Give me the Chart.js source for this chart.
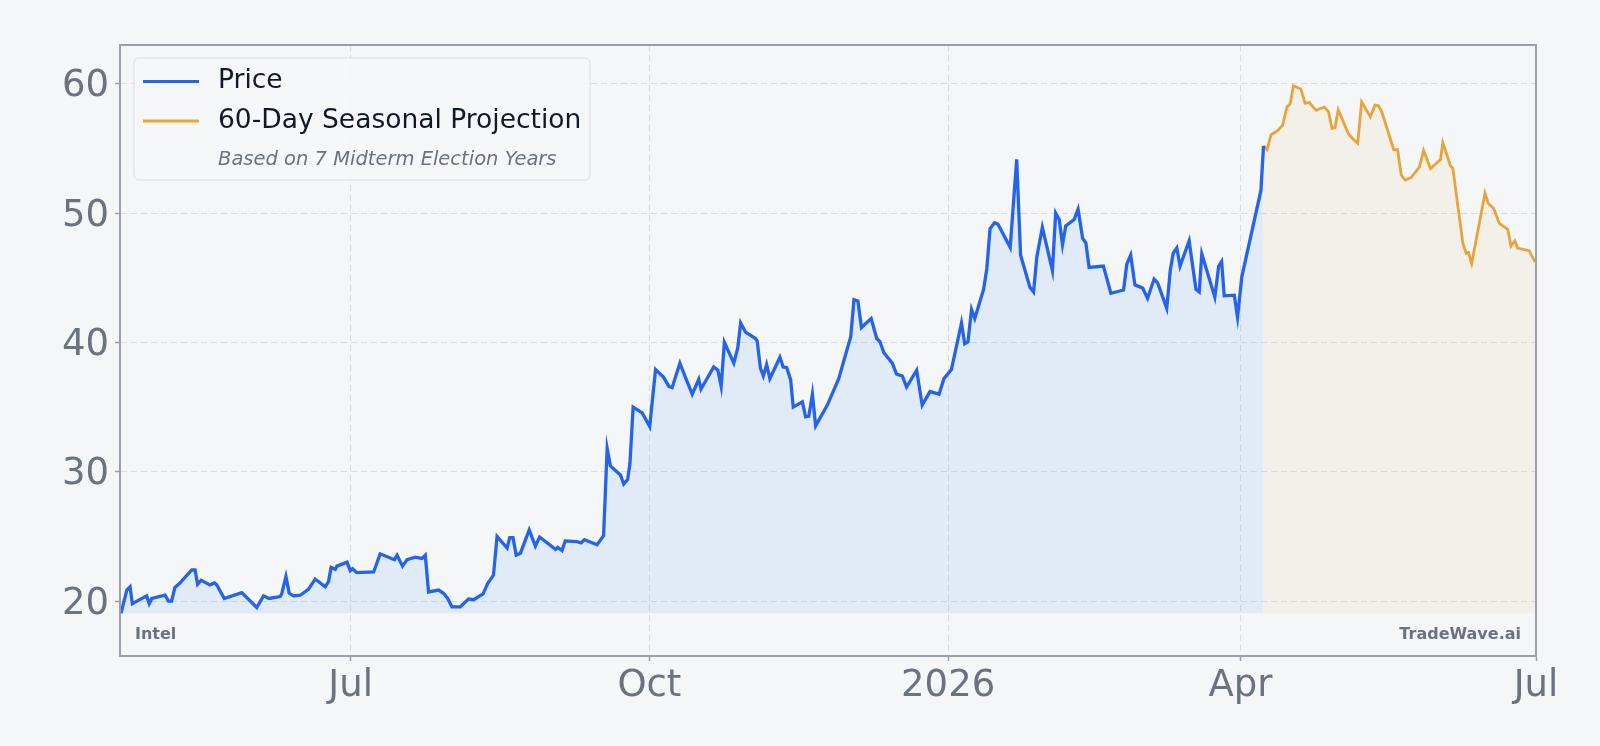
<!DOCTYPE html>
<html>
<head>
<meta charset="utf-8">
<title>Intel - 60-Day Seasonal Projection</title>
<script src="https://cdn.jsdelivr.net/npm/chart.js@4.4.1/dist/chart.umd.min.js"></script>
<style>
    html, body {
        margin: 0;
        padding: 0;
        background: #f5f6f8;
    }
    #wrap {
        width: 1600px;
        height: 746px;
    }
</style>
</head>
<body>
<div id="wrap">
    <canvas id="priceChart" width="1600" height="746"></canvas>
</div>
<script>
// day offsets are counted from START_DATE
const START_DATE = '2025-04-21';

const priceDays = [
    0.3, 2.1, 3.1, 3.8, 8.2, 9.0, 9.8, 13.9, 14.9, 15.9, 16.9, 18.5, 22.1, 23.1, 23.9, 25.0,
    27.7, 29.1, 29.8, 32.1, 37.5, 42.1, 44.2, 45.9, 49.3, 49.8, 51.1, 52.1, 53.4, 55.5, 58.0,
    60.1, 63.2, 64.2, 65.0, 66.3, 66.8, 69.9, 70.9, 71.6, 72.9, 78.1, 80.1, 84.5, 85.3, 87.0,
    88.4, 90.9, 93.0, 94.0, 95.0, 98.1, 99.6, 100.9, 102.2, 104.8, 105.8, 107.3, 108.9, 111.8,
    113.2, 115.0, 116.1, 119.2, 120.0, 121.0, 122.0, 123.3, 126.0, 127.9, 129.2, 134.1, 134.8,
    136.1, 137.1, 140.7, 142.0, 143.0, 146.9, 148.9, 150.0, 151.0, 154.1, 155.1, 156.3, 157.0,
    158.0, 160.8, 163.1, 164.9, 167.4, 169.0, 170.0, 172.4, 174.1, 176.2, 178.2, 178.9, 182.8,
    184.1, 185.1, 186.1, 189.0, 190.2, 191.1, 192.6, 195.7, 196.2, 197.2, 198.1, 199.1, 200.1,
    203.2, 204.2, 205.3, 206.5, 207.3, 210.1, 211.1, 212.1, 213.2, 214.2, 217.8, 221.3, 225.0,
    226.0, 227.2, 228.3, 231.3, 233.0, 234.0, 235.2, 237.8, 239.1, 240.9, 242.2, 245.3, 247.0,
    249.4, 252.2, 253.7, 256.0, 259.1, 260.1, 261.1, 262.2, 263.2, 265.9, 266.9, 267.9, 269.3,
    270.3, 274.1, 276.1, 277.3, 280.2, 281.3, 282.3, 284.0, 287.1, 288.1, 289.2, 290.2, 291.2,
    293.8, 295.0, 296.4, 297.4, 298.4, 302.8, 305.1, 309.0, 310.0, 311.2, 312.5, 314.9, 316.4,
    318.4, 319.5, 322.3, 323.4, 324.3, 325.4, 326.4, 329.2, 331.3, 332.3, 333.1, 337.1, 338.3,
    339.2, 340.0, 343.1, 344.1, 345.4, 351.3, 352.1
];
const priceValues = [
    19.05, 20.85, 21.1, 19.8, 20.4, 19.8, 20.2, 20.45, 20.0, 20.0, 21.05, 21.4, 22.4, 22.4, 21.3, 21.6,
    21.25, 21.4, 21.25, 20.2, 20.65, 19.5, 20.4, 20.2, 20.35, 20.55, 21.9, 20.6, 20.4, 20.45, 20.9,
    21.7, 21.1, 21.5, 22.6, 22.45, 22.7, 23.0, 22.35, 22.5, 22.2, 22.25, 23.65, 23.2, 23.55, 22.7,
    23.2, 23.4, 23.3, 23.55, 20.7, 20.85, 20.6, 20.2, 19.55, 19.55, 19.8, 20.15, 20.1, 20.55,
    21.35, 22.0, 25.0, 24.1, 24.9, 24.9, 23.55, 23.7, 25.5, 24.25, 24.95, 24.0, 24.15,
    23.9, 24.65, 24.6, 24.5, 24.75, 24.35, 25.05, 31.8, 30.45, 29.75, 29.05, 29.4, 30.6,
    35.0, 34.55, 33.5, 37.9, 37.3, 36.6, 36.5, 38.4, 37.3, 36.0, 37.15, 36.4, 38.1,
    37.85, 36.6, 40.0, 38.4, 39.55, 41.5, 40.8, 40.3, 40.1, 38.0, 37.4, 38.3, 37.2,
    38.85, 38.1, 38.05, 37.1, 35.0, 35.4, 34.25, 34.3, 36.0, 33.55, 35.15, 37.2, 40.45,
    43.3, 43.2, 41.15, 41.85, 40.3, 40.05, 39.2, 38.4, 37.55, 37.4, 36.55, 37.85, 35.15,
    36.2, 36.0, 37.2, 37.9, 41.5, 39.9, 40.05, 42.55, 41.85, 44.1, 45.7, 48.8, 49.25,
    49.15, 47.35, 54.15, 46.75, 44.25, 43.9, 46.6, 48.9, 45.55, 50.0, 49.5, 47.55, 49.0,
    49.5, 50.3, 48.05, 47.7, 45.8, 45.9, 43.8, 44.05, 46.05, 46.75, 44.45, 44.2, 43.4,
    44.9, 44.6, 42.65, 45.6, 46.9, 47.3, 45.9, 47.85, 44.1, 43.9, 46.85, 43.5, 45.9,
    46.25, 43.6, 43.65, 41.95, 45.05, 51.75, 55.2
];

const projDays = [
    352.1, 353.2, 354.4, 356.5, 358.0, 359.3, 360.3, 361.3, 363.6, 364.9, 366.2, 368.3, 370.8,
    372.1, 373.2, 374.1, 375.1, 378.2, 379.6, 381.1, 382.3, 385.0, 386.4, 387.5, 388.5, 392.2,
    393.4, 394.5, 395.7, 397.5, 400.1, 401.4, 403.5, 406.6, 407.3, 409.6, 410.4, 413.5, 414.5,
    415.2, 416.2, 420.3, 421.3, 423.0, 424.7, 427.3, 428.3, 429.5, 430.3, 433.9, 435.5, 436.0
];
const projValues = [
    55.2, 54.9, 56.05, 56.4, 56.8, 58.2, 58.45, 59.85, 59.6, 58.5, 58.55, 57.95, 58.2,
    57.85, 56.55, 56.6, 58.0, 56.15, 55.75, 55.4, 58.6, 57.45, 58.35, 58.3, 57.85, 54.9,
    54.9, 52.95, 52.55, 52.75, 53.55, 54.85, 53.45, 54.15, 55.45, 53.7, 53.45, 47.65, 46.9,
    46.95, 46.1, 51.55, 50.75, 50.35, 49.2, 48.75, 47.45, 47.85, 47.3, 47.1, 46.3, 46.3
];

const tickDates = ['2025-07-01', '2025-10-01', '2026-01-01', '2026-04-01', '2026-07-01'];
const tickLabels = ['Jul', 'Oct', '2026', 'Apr', 'Jul'];
const yTicks = [20, 30, 40, 50, 60];

const Y_MIN = 15.75;
const Y_MAX = 63;

const FONT = "'DejaVu Sans', sans-serif";
const BLUE = '#2563eb';
const ORANGE = '#e8a43a';
const GREY_TEXT = '#6b7280';
const FRAME = '#9aa0aa';
const GRID = '#d8dce2';

document.addEventListener('DOMContentLoaded', () => {
    buildChart();
});

function dayOffset(dateString) {
    return (Date.parse(dateString) - Date.parse(START_DATE)) / 86400000;
}

function toPoints(days, values) {
    return days.map((d, i) => ({ x: d, y: values[i] }));
}

const frameAndLegend = {
    id: 'frameAndLegend',
    afterDraw(chart) {
        const ctx = chart.ctx;
        const area = chart.chartArea;
        ctx.save();

        // plot frame
        ctx.strokeStyle = FRAME;
        ctx.lineWidth = 2;
        ctx.strokeRect(area.left, area.top, area.right - area.left, area.bottom - area.top);

        // corner captions
        ctx.fillStyle = GREY_TEXT;
        ctx.font = 'bold 16px ' + FONT;
        ctx.textBaseline = 'middle';
        ctx.textAlign = 'left';
        ctx.fillText('Intel', area.left + 15, 635);
        ctx.textAlign = 'right';
        ctx.fillText('TradeWave.ai', area.right - 15, 635);

        // legend box
        const bx = 134, by = 58, bw = 456, bh = 122;
        ctx.beginPath();
        ctx.roundRect(bx, by, bw, bh, 5);
        ctx.fillStyle = 'rgba(246, 247, 249, 0.85)';
        ctx.fill();
        ctx.strokeStyle = '#d9dde3';
        ctx.lineWidth = 1;
        ctx.stroke();

        const rows = [
            { label: 'Price', color: BLUE, y: 81.5 },
            { label: '60-Day Seasonal Projection', color: ORANGE, y: 121 }
        ];
        rows.forEach(row => {
            ctx.beginPath();
            ctx.strokeStyle = row.color;
            ctx.lineWidth = 3;
            ctx.moveTo(143, row.y);
            ctx.lineTo(199, row.y);
            ctx.stroke();
            ctx.fillStyle = '#111827';
            ctx.font = '26.5px ' + FONT;
            ctx.textAlign = 'left';
            ctx.textBaseline = 'middle';
            ctx.fillText(row.label, 218, row.y);
        });

        ctx.fillStyle = GREY_TEXT;
        ctx.font = 'italic 19.5px ' + FONT;
        ctx.fillText('Based on 7 Midterm Election Years', 218, 160);

        ctx.restore();
    }
};

function buildChart() {
    const ctx = document.getElementById('priceChart').getContext('2d');
    const baseline = Math.min(...priceValues);
    const xTickValues = tickDates.map(dayOffset);

    new Chart(ctx, {
        type: 'line',
        data: {
            datasets: [
                {
                    label: 'Price',
                    data: toPoints(priceDays, priceValues),
                    borderColor: BLUE,
                    backgroundColor: 'rgba(96, 165, 250, 0.13)',
                    borderWidth: 3.3,
                    pointRadius: 0,
                    tension: 0,
                    fill: { value: baseline }
                },
                {
                    label: '60-Day Seasonal Projection',
                    data: toPoints(projDays, projValues),
                    borderColor: ORANGE,
                    backgroundColor: 'rgba(232, 164, 58, 0.08)',
                    borderWidth: 2.8,
                    pointRadius: 0,
                    tension: 0,
                    fill: { value: baseline }
                }
            ]
        },
        options: {
            responsive: false,
            animation: false,
            devicePixelRatio: 1,
            layout: {
                padding: { left: 0, top: 45, right: 64, bottom: 0 }
            },
            plugins: {
                legend: { display: false },
                tooltip: { enabled: false }
            },
            scales: {
                x: {
                    type: 'linear',
                    min: 0,
                    max: xTickValues[xTickValues.length - 1],
                    afterFit: scale => { scale.height = 90; },
                    afterBuildTicks: scale => {
                        scale.ticks = xTickValues.map(v => ({ value: v }));
                    },
                    grid: {
                        color: GRID,
                        lineWidth: 1,
                        tickColor: FRAME,
                        tickLength: 5,
                        tickWidth: 1.5
                    },
                    border: { display: true, color: FRAME, width: 2, dash: [6, 4] },
                    ticks: {
                        color: GREY_TEXT,
                        font: { family: FONT, size: 37 },
                        padding: 3,
                        maxRotation: 0,
                        autoSkip: false,
                        callback: function(value) {
                            const i = xTickValues.indexOf(value);
                            return i >= 0 ? tickLabels[i] : '';
                        }
                    }
                },
                y: {
                    min: Y_MIN,
                    max: Y_MAX,
                    afterFit: scale => { scale.width = 120; },
                    afterBuildTicks: scale => {
                        scale.ticks = yTicks.map(v => ({ value: v }));
                    },
                    grid: {
                        color: GRID,
                        lineWidth: 1,
                        tickColor: FRAME,
                        tickLength: 5,
                        tickWidth: 1.5
                    },
                    border: { display: true, color: FRAME, width: 2, dash: [6, 4] },
                    ticks: {
                        color: GREY_TEXT,
                        font: { family: FONT, size: 37 },
                        padding: 6,
                        labelOffset: 3
                    }
                }
            }
        },
        plugins: [frameAndLegend]
    });
}
</script>
</body>
</html>
